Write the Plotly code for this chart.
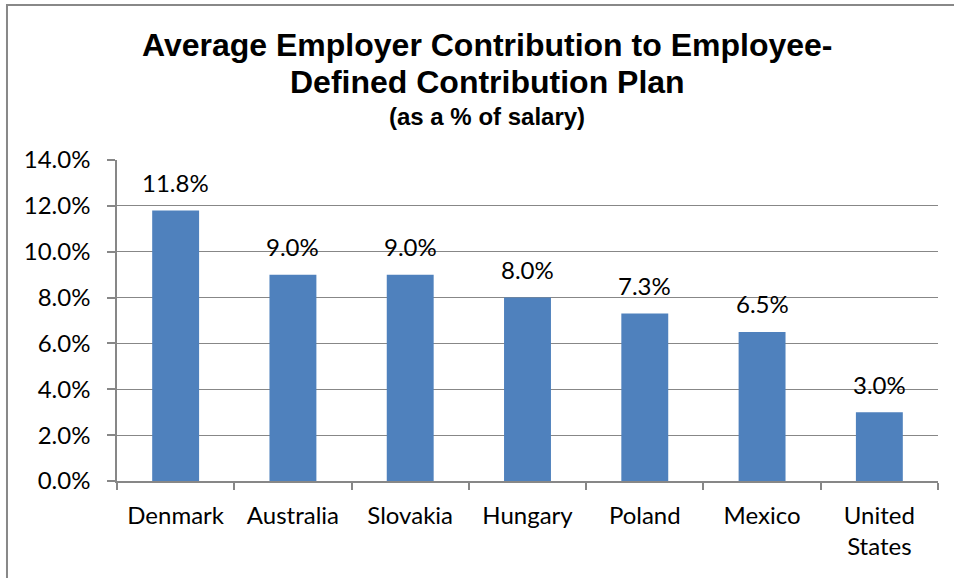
import plotly.graph_objects as go

countries = ["Denmark", "Australia", "Slovakia", "Hungary", "Poland", "Mexico", "United<br>States"]
contrib = [11.8, 9.0, 9.0, 8.0, 7.3, 6.5, 3.0]
y_ticks = [0, 2, 4, 6, 8, 10, 12, 14]
y_tick_labels = [f"{v:.1f}%" for v in y_ticks]

title_line1 = "Average Employer Contribution to Employee-"
title_line2 = "Defined Contribution Plan"
subtitle = "(as a % of salary)"

GRID = "#878787"
BAR = "#4F81BD"
TICKFONT = dict(family="Lato, Carlito, sans-serif", size=24, color="#000000")
TITLEFONT = "Liberation Sans, Arial, sans-serif"

fig = go.Figure()
fig.add_trace(go.Bar(
    x=countries, y=contrib, marker=dict(color=BAR, line=dict(width=0)),
    width=0.4, hoverinfo="skip",
))

annotations = []
for c, v in zip(countries, contrib):
    annotations.append(dict(x=c, y=v, xref="x", yref="y", text=f"{v:.1f}%",
                            showarrow=False, yanchor="middle", yshift=28,
                            font=TICKFONT))
annotations += [
    dict(x=0.4507, y=1.358, xref="paper", yref="paper", text=f"<b>{title_line1}</b>",
         showarrow=False, xanchor="center", yanchor="middle",
         font=dict(family=TITLEFONT, size=32, color="#000000")),
    dict(x=0.4507, y=1.243, xref="paper", yref="paper", text=f"<b>{title_line2}</b>",
         showarrow=False, xanchor="center", yanchor="middle",
         font=dict(family=TITLEFONT, size=32, color="#000000")),
    dict(x=0.4507, y=1.137, xref="paper", yref="paper", text=f"<b>{subtitle}</b>",
         showarrow=False, xanchor="center", yanchor="middle",
         font=dict(family=TITLEFONT, size=24, color="#000000")),
]

fig.update_layout(
    width=954, height=578,
    margin=dict(l=117, r=16, t=160, b=97, pad=0),
    paper_bgcolor="white", plot_bgcolor="white",
    showlegend=False, bargap=0.6,
    annotations=annotations,
    shapes=[dict(type="path", xref="paper", yref="paper",
                 path="M -0.134,-0.35 L -0.134,1.483 L 1.05,1.483",
                 line=dict(color="#888888", width=2))],
)
fig.update_xaxes(
    type="category", showgrid=False, showline=True, linecolor=GRID, linewidth=1.5,
    ticks="outside", tickson="boundaries", ticklen=7, tickcolor=GRID, tickwidth=1.5,
    tickfont=TICKFONT, ticklabelstandoff=12, fixedrange=True,
)
fig.update_yaxes(
    range=[0, 14], tickvals=y_ticks, ticktext=y_tick_labels,
    showgrid=True, gridcolor=GRID, gridwidth=1, zeroline=False,
    showline=True, linecolor=GRID, linewidth=1.5,
    ticks="outside", ticklen=8, tickcolor=GRID, tickwidth=1.5,
    tickfont=TICKFONT, ticklabelstandoff=12, fixedrange=True,
)
fig.write_html("out.html", config={"displayModeBar": False})
